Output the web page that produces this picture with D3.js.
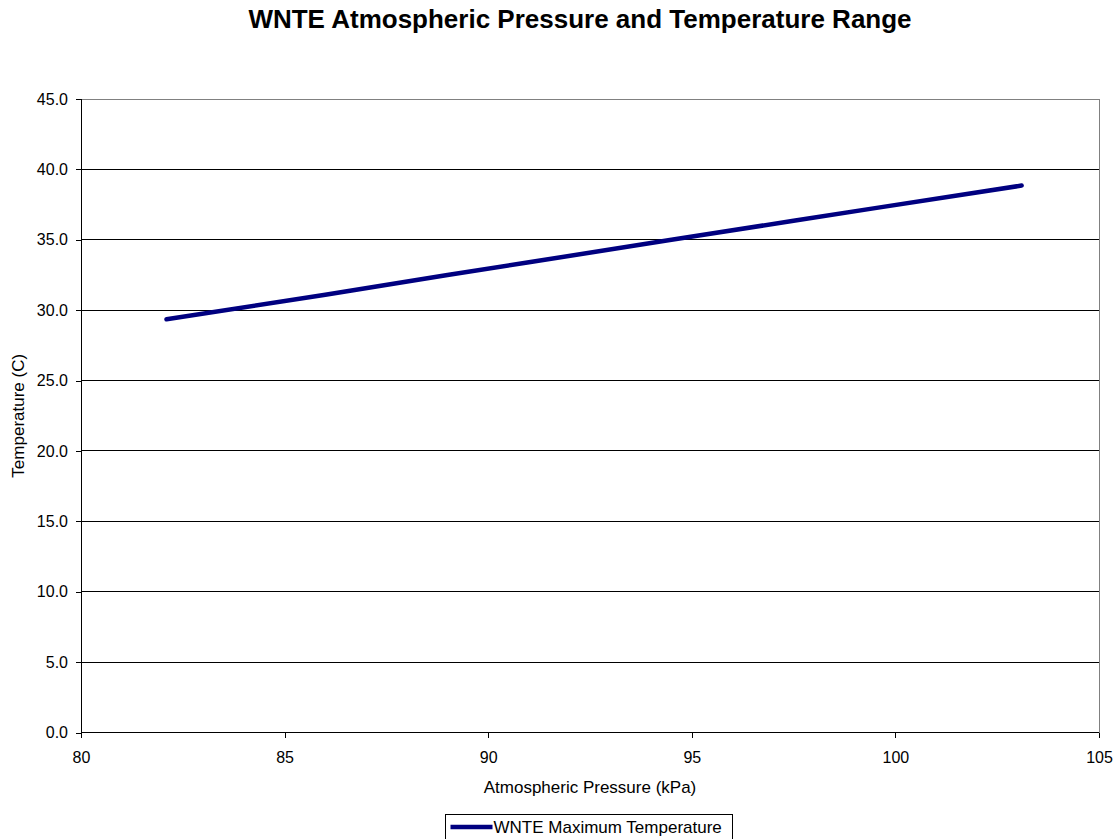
<!DOCTYPE html>
<html>
<head>
<meta charset="utf-8">
<script src="https://cdn.jsdelivr.net/npm/d3@7"></script>
<style>
  body { margin: 0; background: #fff; }
  text { font-family: "Liberation Sans", Arial, sans-serif; fill: #000; }
</style>
</head>
<body>
<div id="chart"></div>
<script>
// pressure (kPa) vs max temperature (C)
const pressure = [82.1, 86.0, 89.0, 91.0, 94.5, 97.5, 99.5, 103.1];
const maxTemp = [29.35, 31.1, 32.5, 33.4, 35.0, 36.35, 37.25, 38.85];
const xTicks = [80, 85, 90, 95, 100, 105];
const yTicks = [0, 5, 10, 15, 20, 25, 30, 35, 40, 45];

const width = 1116, height = 839;
const m = { left: 81, right: 1099, top: 99, bottom: 732.5 };

const svg = d3.select('#chart').append('svg')
    .attr('width', width)
    .attr('height', height);

const x = d3.scaleLinear().domain([80, 105]).range([m.left, m.right]);
const y = d3.scaleLinear().domain([0, 45]).range([m.bottom, m.top]);

// horizontal gridlines
svg.append('g').selectAll('line')
    .data(yTicks.slice(1))
    .enter().append('line')
    .attr('x1', m.left).attr('x2', m.right)
    .attr('y1', d => y(d)).attr('y2', d => y(d))
    .attr('stroke', d => d === 45 ? '#808080' : '#000')
    .attr('stroke-width', 1)
    .attr('shape-rendering', 'crispEdges');

// right border
svg.append('line')
    .attr('x1', m.right).attr('x2', m.right)
    .attr('y1', m.top).attr('y2', m.bottom)
    .attr('stroke', '#808080')
    .attr('shape-rendering', 'crispEdges');

// axes
const yAxis = d3.axisLeft(y).tickValues(yTicks).tickFormat(d3.format('.1f')).tickSize(5).tickPadding(8);
const xAxis = d3.axisBottom(x).tickValues(xTicks).tickSize(5).tickPadding(14);

const gy = svg.append('g').attr('transform', `translate(${m.left},0)`).call(yAxis);
const gx = svg.append('g').attr('transform', `translate(0,${m.bottom})`).call(xAxis);
[gx, gy].forEach(g => {
    g.select('.domain').attr('stroke', '#000').attr('shape-rendering', 'crispEdges');
    g.selectAll('.tick line').attr('stroke', '#000').attr('shape-rendering', 'crispEdges');
    g.selectAll('.tick text').style('font-family', '"Liberation Sans", Arial, sans-serif')
        .style('font-size', '16px').attr('fill', '#000');
});
gx.select('.domain').attr('d', `M${m.left},0H${m.right}`);
gy.select('.domain').attr('d', `M0,${m.bottom}V${m.top}`);

// series line
const line = d3.line().x((d, i) => x(pressure[i])).y(d => y(d));
svg.append('path')
    .datum(maxTemp)
    .attr('d', line)
    .attr('fill', 'none')
    .attr('stroke', '#000080')
    .attr('stroke-width', 4.5)
    .attr('stroke-linecap', 'round');

// titles
svg.append('text')
    .attr('x', 580).attr('y', 28)
    .attr('text-anchor', 'middle')
    .style('font-size', '26px').style('font-weight', 'bold')
    .text('WNTE Atmospheric Pressure and Temperature Range');

svg.append('text')
    .attr('x', 590).attr('y', 793)
    .attr('text-anchor', 'middle')
    .style('font-size', '17px')
    .text('Atmospheric Pressure (kPa)');

svg.append('text')
    .attr('transform', `translate(24,${(m.top + m.bottom) / 2}) rotate(-90)`)
    .attr('text-anchor', 'middle')
    .style('font-size', '17px')
    .text('Temperature (C)');

// legend
const lg = svg.append('g').attr('transform', 'translate(445.5,814.5)');
lg.append('rect')
    .attr('width', 287).attr('height', 30)
    .attr('fill', '#fff').attr('stroke', '#000').attr('stroke-width', 1);
lg.append('line')
    .attr('x1', 5).attr('x2', 47).attr('y1', 12.5).attr('y2', 12.5)
    .attr('stroke', '#000080').attr('stroke-width', 4.5);
lg.append('text')
    .attr('x', 48).attr('y', 18.5)
    .style('font-size', '17px')
    .text('WNTE Maximum Temperature');
</script>
</body>
</html>
